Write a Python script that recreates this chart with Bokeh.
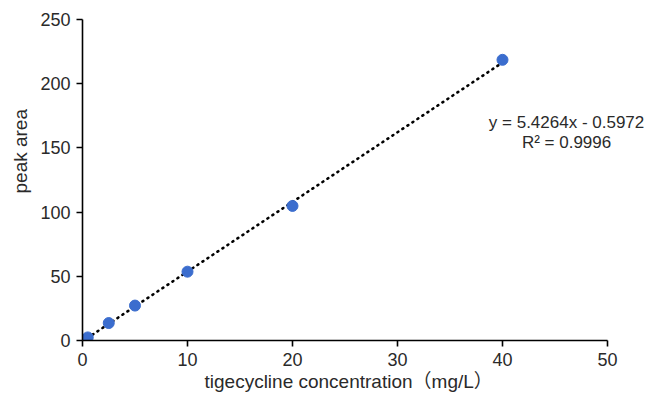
from bokeh.plotting import figure
from bokeh.models import Range1d, ColumnDataSource, FixedTicker, Label, Title
from bokeh.embed import file_html
from bokeh.resources import INLINE

conc = [0.1, 0.5, 2.5, 5, 10, 20, 40]
area = [0.4, 2.4, 13.6, 27.2, 53.6, 104.8, 218.6]
slope = 5.4264
intercept = -0.5972
fit_x = [0, 40]
eq_lines = ["y = 5.4264x - 0.5972", "R\u00b2 = 0.9996"]
x_ticks = [0, 10, 20, 30, 40, 50]
y_ticks = [0, 50, 100, 150, 200, 250]
x_label = "tigecycline concentration\uff08mg/L\uff09"
y_label = "peak area"

FONT = "Liberation Sans, Noto Sans CJK SC"
TXT = "#2a2a2a"

# frame extends a little past x=50 so the equation is not cut; axis line stops at 50
p = figure(width=648, height=393, output_backend="svg", toolbar_location=None,
           x_range=Range1d(0, 53.62), y_range=Range1d(0, 250),
           min_border_left=82, min_border_right=3, min_border_top=19, min_border_bottom=53)
p.outline_line_color = None
p.xgrid.visible = False
p.ygrid.visible = False
p.background_fill_color = "white"

fit_y = [slope * x + intercept for x in fit_x]
p.line(fit_x, fit_y, line_color="black", line_width=2.6, line_dash="1 5", line_cap="round")

src = ColumnDataSource(dict(x=conc, y=area))
p.scatter("x", "y", source=src, size=11, fill_color="#3b6dce", line_color="#3b6dce")

for txt, yy in zip(eq_lines, [169.8, 154.2]):
    p.add_layout(Label(x=46.1, y=yy, text=txt, text_align="center", text_baseline="middle",
                       text_font="Liberation Sans", text_font_size="17px", text_color=TXT))

for ax in (p.xaxis[0], p.yaxis[0]):
    ax.axis_line_color = "black"
    ax.axis_line_width = 1.6
    ax.major_tick_line_color = "black"
    ax.major_tick_line_width = 1.6
    ax.major_tick_out = 6
    ax.major_tick_in = 0
    ax.minor_tick_line_color = None
    ax.major_label_text_font = FONT
    ax.major_label_text_font_size = "18px"
    ax.major_label_text_color = TXT

p.xaxis.bounds = (0, 50)
p.xaxis.ticker = FixedTicker(ticks=x_ticks)
p.yaxis.ticker = FixedTicker(ticks=y_ticks)
p.xaxis.major_label_standoff = 6
p.yaxis.major_label_standoff = 6

xt = Title(text=x_label, align="left", offset=122, text_font=FONT, text_font_size="19px",
           text_font_style="normal", text_color=TXT, standoff=0)
p.add_layout(xt, "below")

yt = Title(text=y_label, align="left", offset=147, text_font=FONT, text_font_size="19px",
           text_font_style="normal", text_color=TXT, standoff=14)
p.add_layout(yt, "left")

open("out.html", "w").write(file_html(p, INLINE))
